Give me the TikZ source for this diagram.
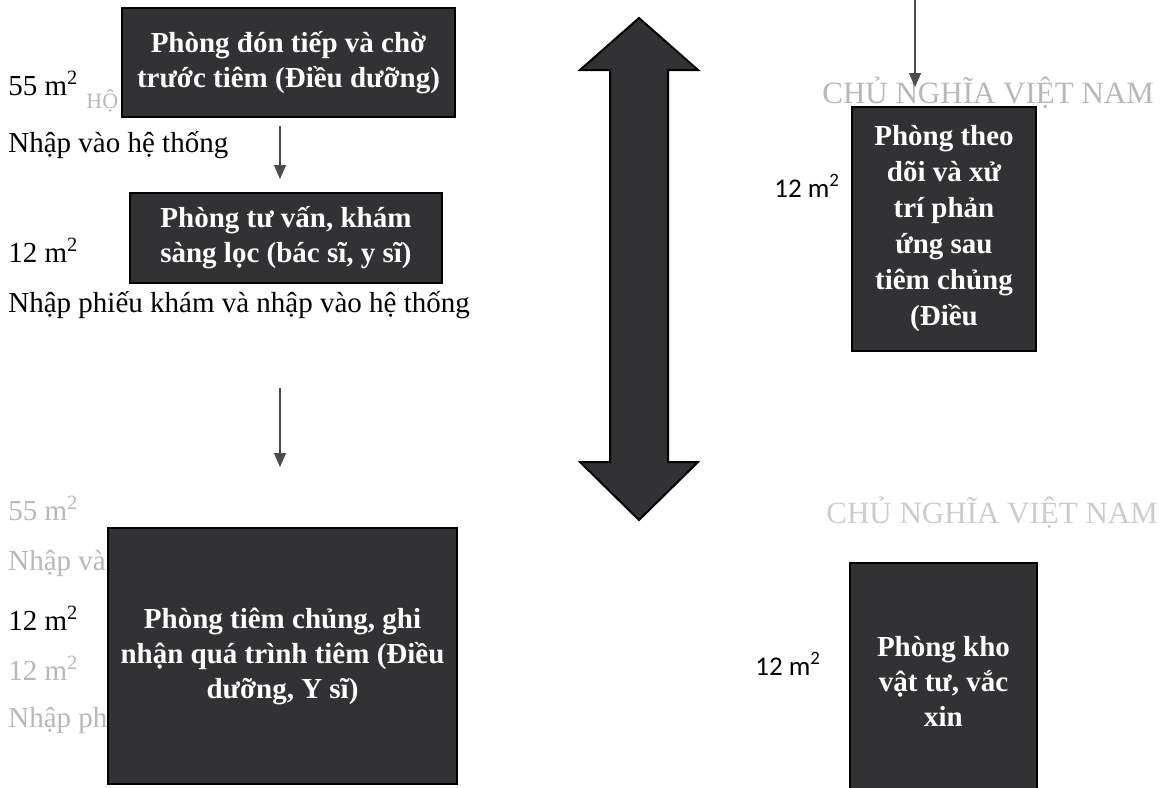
\documentclass[tikz,border=0pt]{standalone}
\usepackage{fontspec}
\setmainfont{Liberation Serif}
\newfontfamily\calib{Carlito}
\usetikzlibrary{arrows.meta}
\definecolor{boxfill}{RGB}{50,50,53}
\begin{document}
\begin{tikzpicture}[x=0.5pt,y=-0.5pt,
 room/.style={draw=black,line width=1pt,fill=boxfill,text=white,font=\fontsize{14.5}{17.5}\selectfont\bfseries,align=center,inner sep=0pt},
 lbl/.style={anchor=base west,font=\fontsize{14.5}{17}\selectfont,inner sep=0pt},
 ghost/.style={lbl,text=black!28},
 slbl/.style={anchor=base west,font=\calib\fontsize{13.5}{16}\selectfont,inner sep=0pt},
 flow/.style={draw=black!70,line width=0.7pt,-{Triangle[length=7pt,width=6pt]}}]
\useasboundingbox (0,0) rectangle (1166,787);
\clip (0,0) rectangle (1166,787);
% ghost (bleed-through) texts
\node[ghost,font=\fontsize{11}{13}\selectfont] (g1) at (86,108) {HỘ};
\node[ghost] (g2) at (8,520) {55 m\textsuperscript{2}};
\node[ghost] (g3) at (8,570) {Nhập vào hệ thống};
\node[ghost] (g4) at (8,680) {12 m\textsuperscript{2}};
\node[ghost] (g5) at (8,727) {Nhập phiếu khám};
\node[ghost,font=\fontsize{15.5}{17}\selectfont] (g6) at (822,103) {CHỦ NGHĨA VIỆT NAM};
\node[ghost,font=\fontsize{15.5}{17}\selectfont,text=black!20] (g7) at (826,523) {CHỦ NGHĨA VIỆT NAM};
% rooms
\node[room,minimum width=166.5pt,minimum height=54.5pt] (r1) at (288.5,62.5) {Phòng đón tiếp và chờ\\trước tiêm (Điều dưỡng)};
\node[room,minimum width=156pt,minimum height=45pt] (r2) at (286,238) {Phòng tư vấn, khám\\sàng lọc (bác sĩ, y sĩ)};
\node[room,minimum width=174.5pt,minimum height=128pt] (r3) at (282.5,656) {Phòng tiêm chủng, ghi\\nhận quá trình tiêm (Điều\\dưỡng, Y sĩ)};
\node[room,minimum width=92pt,minimum height=122pt,font=\fontsize{14.5}{18}\selectfont\bfseries] (r4) at (944,229) {Phòng theo\\dõi và xử\\trí phản\\ứng sau\\tiêm chủng\\(Điều};
\node[room,minimum width=93.5pt,minimum height=118.5pt] (r5) at (943.5,681.5) {Phòng kho\\vật tư, vắc\\xin};
% labels
\node[lbl] (l1) at (8,95) {55 m\textsuperscript{2}};
\node[lbl] (l2) at (8,152) {Nhập vào hệ thống};
\node[lbl] (l3) at (8,262) {12 m\textsuperscript{2}};
\node[lbl] (l4) at (8,312) {Nhập phiếu khám và nhập vào hệ thống};
\node[lbl] (l5) at (8,630) {12 m\textsuperscript{2}};
\node[slbl] (l6) at (774,197) {12 m\textsuperscript{2}};
\node[slbl] (l7) at (755,675) {12 m\textsuperscript{2}};
% connectors
\coordinate (ax) at (280,0);
\coordinate (top) at (915,0);
\draw[flow,shorten <=4pt,shorten >=6.5pt] (r1.south -| ax) -- (r2.north -| ax);
\draw[flow,shorten <=52pt,shorten >=30pt] (r2.south -| ax) -- (r3.north -| ax);
\draw[flow,shorten >=9.5pt] (top) -- (r4.north -| top);
% big double arrow
\draw[fill=boxfill,draw=black,line width=1pt,line join=miter]
 (639,18) -- (698,70) -- (668,70) -- (668,462) -- (698,462) -- (639,520)
 -- (580,462) -- (610,462) -- (610,70) -- (580,70) -- cycle;
\end{tikzpicture}
\end{document}
